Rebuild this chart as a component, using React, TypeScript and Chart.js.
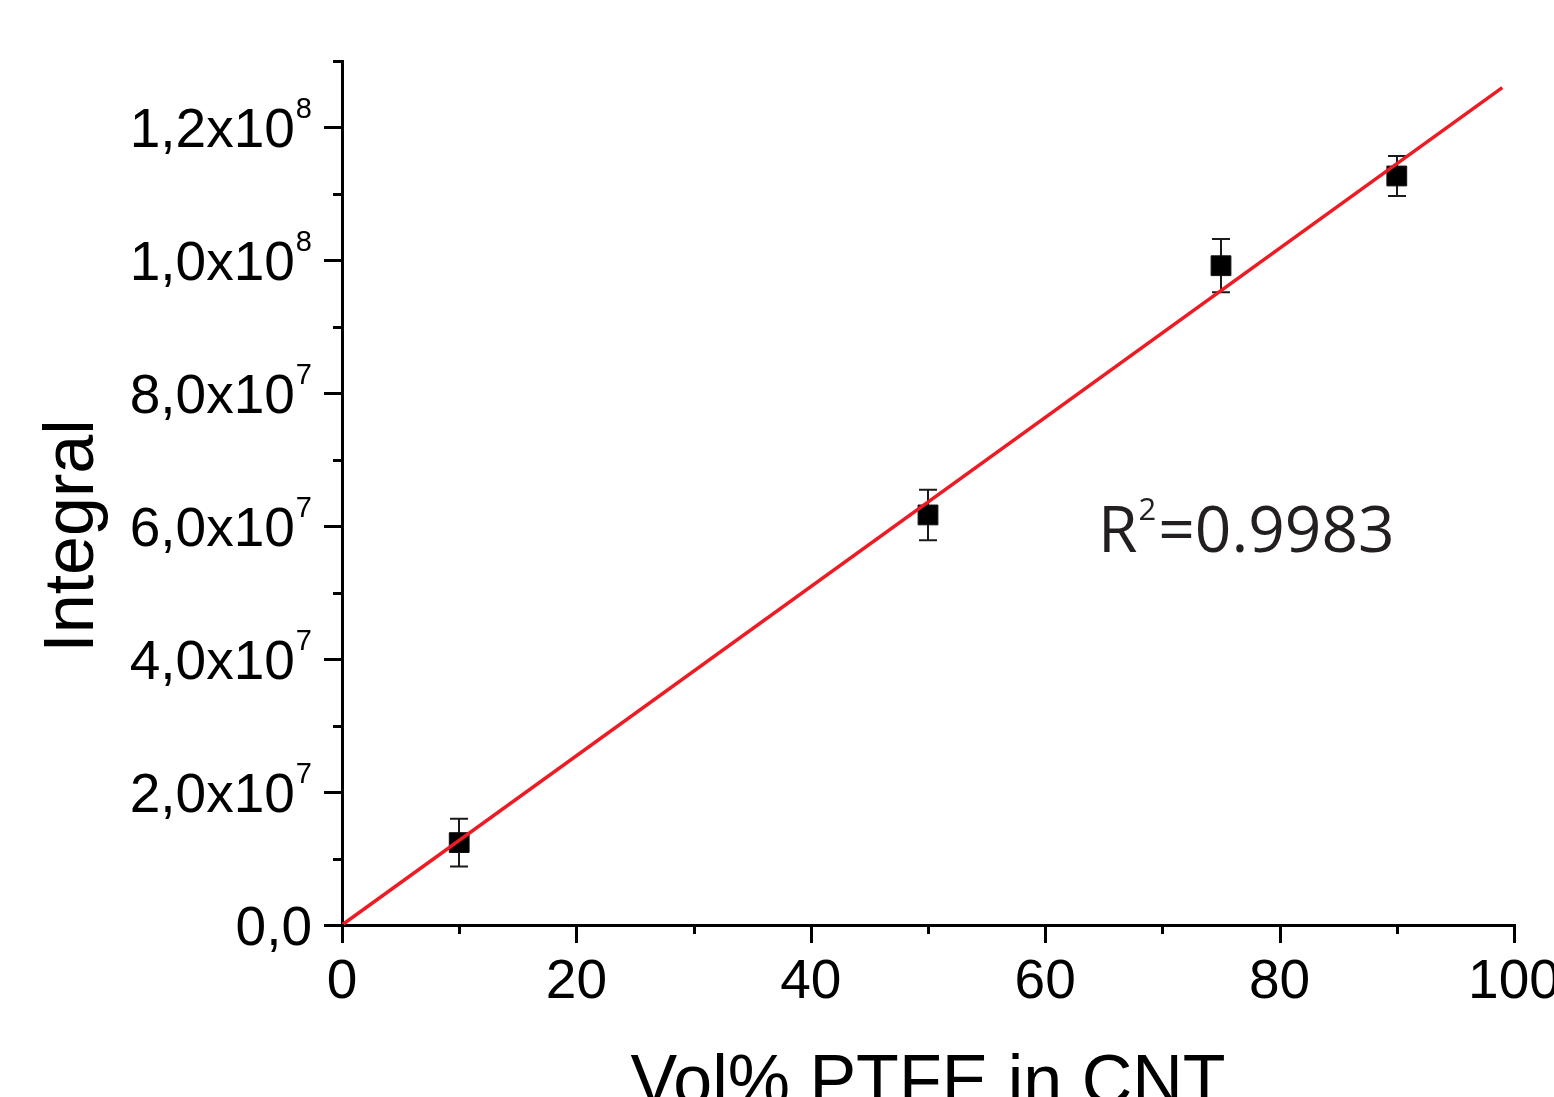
import React, { useEffect, useRef } from "react";
import { Chart, registerables } from "chart.js";

Chart.register(...registerables);

// ---- data ----
const pctPTFE = [10, 50, 75, 90];
const integral = [1.24e7, 6.17e7, 9.92e7, 1.127e8];
const integralErr = [3.6e6, 3.8e6, 4.0e6, 3.0e6];

const fitX = [0, 99];
const fitY = [0, 1.26e8];

const xMajorTicks = [0, 20, 40, 60, 80, 100];
const xMinorTicks = [10, 30, 50, 70, 90];
const xTickLabels = ["0", "20", "40", "60", "80", "100"];

const yMajorTicks = [0, 2e7, 4e7, 6e7, 8e7, 1e8, 1.2e8];
const yMinorTicks = [1e7, 3e7, 5e7, 7e7, 9e7, 1.1e8, 1.3e8];
const yTickBase = ["0,0", "2,0x10", "4,0x10", "6,0x10", "8,0x10", "1,0x10", "1,2x10"];
const yTickExp = ["", "7", "7", "7", "7", "8", "8"];

const xTitle = "Vol% PTFE in CNT";
const yTitle = "Integral";
const rSquared = "=0.9983";

const W = 1554;
const H = 1097;
const FONT = '"Liberation Sans", Arial, sans-serif';

const decorPlugin = {
  id: "decor",
  beforeDatasetsDraw(chart: any) {
    const ctx = chart.ctx;
    const xs = chart.scales.x;
    const ys = chart.scales.y;
    ctx.save();
    ctx.strokeStyle = "#1a1a1a";
    ctx.lineWidth = 2;
    for (let i = 0; i < pctPTFE.length; i++) {
      const px = Math.round(xs.getPixelForValue(pctPTFE[i]));
      const top = ys.getPixelForValue(integral[i] + integralErr[i]);
      const bot = ys.getPixelForValue(integral[i] - integralErr[i]);
      ctx.beginPath();
      ctx.moveTo(px, top);
      ctx.lineTo(px, bot);
      ctx.moveTo(px - 9, top);
      ctx.lineTo(px + 9, top);
      ctx.moveTo(px - 9, bot);
      ctx.lineTo(px + 9, bot);
      ctx.stroke();
    }
    ctx.restore();
  },
  afterDraw(chart: any) {
    const ctx = chart.ctx;
    const xs = chart.scales.x;
    const ys = chart.scales.y;
    const area = chart.chartArea;
    ctx.save();
    // tick marks
    ctx.strokeStyle = "#000";
    ctx.lineWidth = 3;
    ctx.lineCap = "butt";
    ctx.beginPath();
    yMajorTicks.forEach((v) => {
      const y = Math.round(ys.getPixelForValue(v)) + 0.5;
      ctx.moveTo(area.left - 18, y);
      ctx.lineTo(area.left + 1, y);
    });
    yMinorTicks.forEach((v) => {
      const y = Math.round(ys.getPixelForValue(v)) + 0.5;
      ctx.moveTo(area.left - 9, y);
      ctx.lineTo(area.left + 1, y);
    });
    xMajorTicks.forEach((v) => {
      const x = Math.round(xs.getPixelForValue(v)) + 0.5;
      ctx.moveTo(x, area.bottom - 1);
      ctx.lineTo(x, area.bottom + 18);
    });
    xMinorTicks.forEach((v) => {
      const x = Math.round(xs.getPixelForValue(v)) + 0.5;
      ctx.moveTo(x, area.bottom - 1);
      ctx.lineTo(x, area.bottom + 9);
    });
    ctx.stroke();

    // y tick labels
    ctx.fillStyle = "#000";
    ctx.textBaseline = "alphabetic";
    const xRight = 312;
    yMajorTicks.forEach((v, i) => {
      const y = ys.getPixelForValue(v);
      ctx.font = `29px ${FONT}`;
      const supW = yTickExp[i] ? ctx.measureText(yTickExp[i]).width : 0;
      if (yTickExp[i]) {
        ctx.textAlign = "right";
        ctx.fillText(yTickExp[i], xRight, y - 9);
      }
      ctx.font = `55px ${FONT}`;
      ctx.textAlign = "right";
      ctx.fillText(yTickBase[i], xRight - supW - (supW ? 1 : 0), y + 20);
    });

    // x tick labels
    ctx.font = `55px ${FONT}`;
    ctx.textAlign = "center";
    xMajorTicks.forEach((v, i) => {
      const x = xs.getPixelForValue(v);
      ctx.fillText(xTickLabels[i], x, 998);
    });

    // axis titles
    ctx.font = `70px ${FONT}`;
    ctx.textAlign = "center";
    ctx.fillText(xTitle, 928, 1104);

    ctx.save();
    ctx.translate(93, 536);
    ctx.rotate(-Math.PI / 2);
    ctx.font = `70px ${FONT}`;
    ctx.textAlign = "center";
    ctx.fillText(yTitle, 0, 0);
    ctx.restore();

    // R^2 annotation
    ctx.fillStyle = "#231f20";
    ctx.textAlign = "left";
    const rx = 1098;
    const rBase = 552;
    ctx.font = `64px "Open Sans", sans-serif`;
    ctx.fillText("R", rx, rBase);
    const rW = ctx.measureText("R").width;
    ctx.font = `31px "Open Sans", sans-serif`;
    ctx.fillText("2", rx + rW + 1, rBase - 32);
    const twoW = ctx.measureText("2").width;
    ctx.font = `64px "Open Sans", sans-serif`;
    ctx.fillText(rSquared, rx + rW + twoW + 3, rBase);

    ctx.restore();
  },
};

export default function App() {
  const canvasRef = useRef<HTMLCanvasElement | null>(null);

  useEffect(() => {
    const canvas = canvasRef.current;
    if (!canvas) return;
    const chart = new Chart(canvas, {
      type: "scatter",
      data: {
        datasets: [
          {
            type: "line",
            label: "Linear fit",
            data: fitX.map((x, i) => ({ x, y: fitY[i] })),
            borderColor: "#ed1c24",
            borderWidth: 3.5,
            pointRadius: 0,
            fill: false,
            order: 0,
          } as any,
          {
            type: "scatter",
            label: "Integral",
            data: pctPTFE.map((x, i) => ({ x, y: integral[i] })),
            pointStyle: "rect",
            pointRadius: 14,
            backgroundColor: "#000",
            borderColor: "#111",
            borderWidth: 1,
            order: 1,
          } as any,
        ],
      },
      options: {
        responsive: false,
        animation: false,
        devicePixelRatio: 1,
        layout: { padding: { top: 61, right: 40, left: 0, bottom: 0 } },
        plugins: {
          legend: { display: false },
          tooltip: { enabled: false },
          title: { display: false },
        },
        scales: {
          x: {
            type: "linear",
            min: 0,
            max: 100,
            grid: { display: false },
            border: { display: true, color: "#000", width: 3 },
            ticks: { display: false, stepSize: 10 },
            afterFit: (s: any) => {
              s.height = 172;
            },
          },
          y: {
            type: "linear",
            min: 0,
            max: 1.3e8,
            grid: { display: false },
            border: { display: true, color: "#000", width: 3 },
            ticks: { display: false, stepSize: 1e7 },
            afterFit: (s: any) => {
              s.width = 342;
            },
          },
        },
      } as any,
      plugins: [decorPlugin],
    });
    return () => chart.destroy();
  }, []);

  return (
    <div style={{ position: "absolute", left: 0, top: 0, width: W, height: H, background: "#fff" }}>
      <canvas ref={canvasRef} width={W} height={H} style={{ display: "block" }} />
    </div>
  );
}
